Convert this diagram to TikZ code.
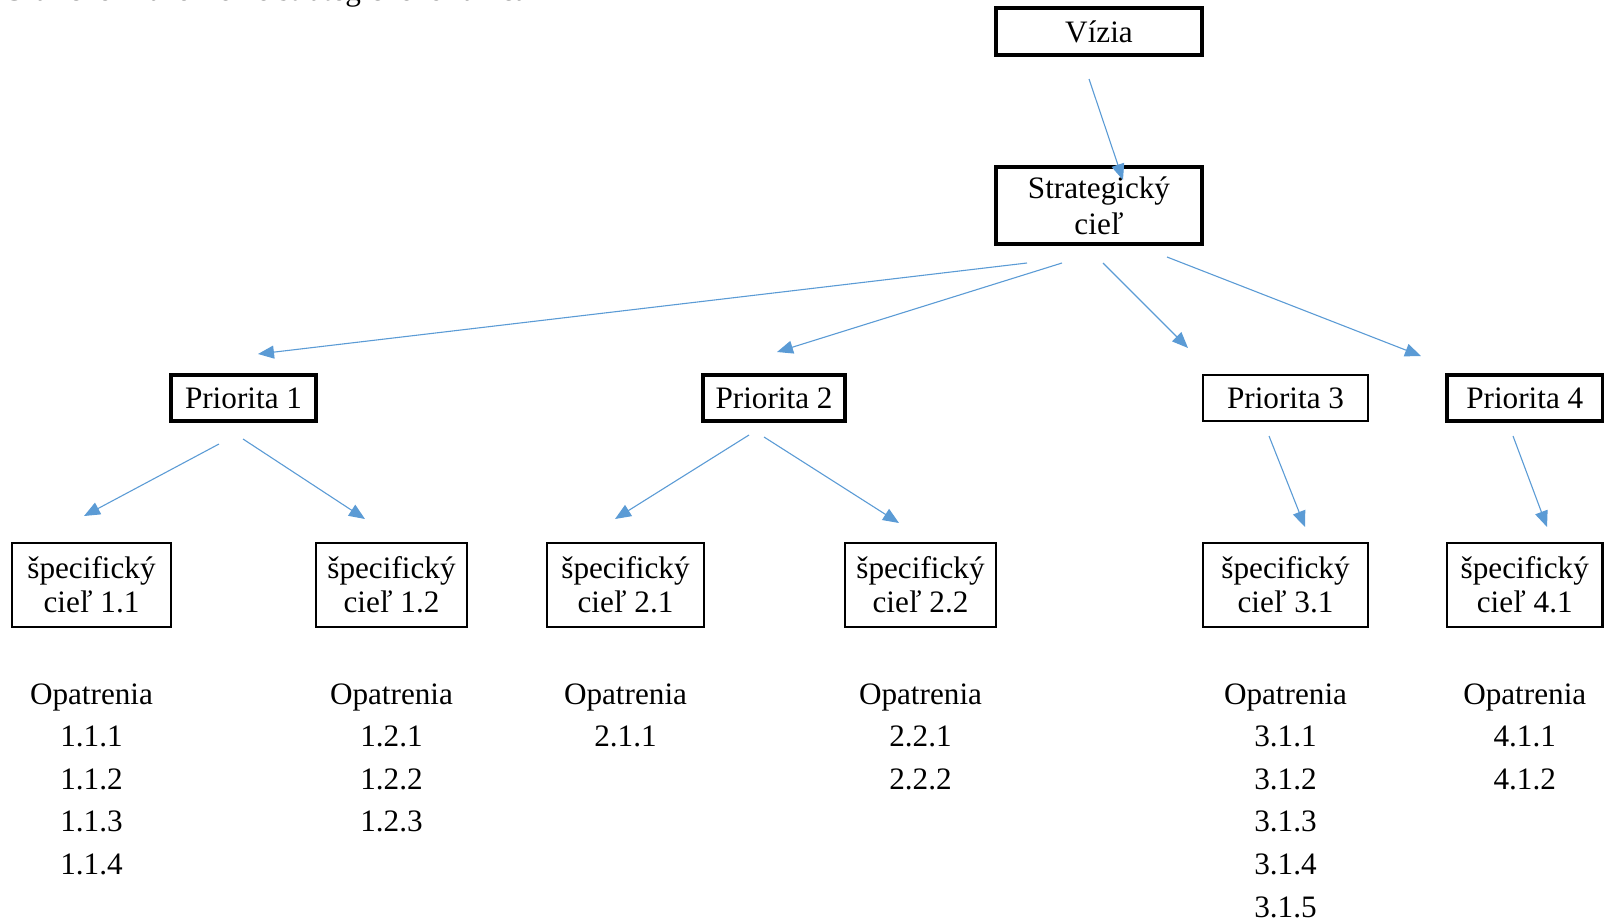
\documentclass[tikz,border=0pt]{standalone}
\usepackage{fontspec}
\setmainfont{Liberation Serif}
\usetikzlibrary{arrows.meta}
\definecolor{arrowblue}{HTML}{5B9BD5}
\tikzset{
  boxbase/.style={draw=black, rectangle, inner sep=0pt, align=center,
    font=\fontsize{15.6pt}{18pt}\selectfont},
  bigbox/.style={boxbase, line width=1.55pt},
  thinbox/.style={boxbase, line width=1pt},
  specbox/.style={boxbase, line width=1.1pt, minimum height=42pt},
  conn/.style={draw=arrowblue, line width=0.55pt, -{Triangle[length=8pt,width=6.5pt]}},
  listtext/.style={inner sep=0pt, anchor=base, font=\fontsize{15.6pt}{18pt}\selectfont}
}
\begin{document}
\begin{tikzpicture}[x=0.5pt,y=-0.5pt]
\useasboundingbox (0,0) rectangle (1605,921);
% cut-off caption at the very top
\node[listtext, anchor=base west] (caption) at (2,1) {Grafické znázornenie strategického rámca};
% boxes
\node[bigbox, minimum width=103pt, minimum height=23.5pt] (viz) at (1099,31.5) {Vízia};
\node[bigbox, minimum width=103pt, minimum height=38.5pt] (sc) at (1099,205.5) {Strategický\\cieľ};
\node[bigbox, minimum width=72.5pt, minimum height=23pt] (p1) at (243.5,398) {Priorita 1};
\node[bigbox, minimum width=71pt, minimum height=23pt] (p2) at (774,398) {Priorita 2};
\node[thinbox, minimum width=82.5pt, minimum height=23pt] (p3) at (1285.5,398) {Priorita 3};
\node[bigbox, minimum width=77.75pt, minimum height=23pt] (p4) at (1524.75,398) {Priorita 4};
\node[specbox, minimum width=79.5pt] (s11) at (91.5,585) {\raisebox{-1pt}{špecifický}\\cieľ 1.1};
\node[specbox, minimum width=75.5pt] (s12) at (391.5,585) {\raisebox{-1pt}{špecifický}\\cieľ 1.2};
\node[specbox, minimum width=78.5pt] (s21) at (625.5,585) {\raisebox{-1pt}{špecifický}\\cieľ 2.1};
\node[specbox, minimum width=75.5pt] (s22) at (920.5,585) {\raisebox{-1pt}{špecifický}\\cieľ 2.2};
\node[specbox, minimum width=82.5pt] (s31) at (1285.5,585) {\raisebox{-1pt}{špecifický}\\cieľ 3.1};
\node[specbox, minimum width=77.75pt] (s41) at (1524.75,585) {\raisebox{-1pt}{špecifický}\\cieľ 4.1};
% measures
\foreach \nm/\cx/\items in {o11/91.5/{1.1.1,1.1.2,1.1.3,1.1.4},
                            o12/391.5/{1.2.1,1.2.2,1.2.3},
                            o21/625.5/{2.1.1},
                            o22/920.5/{2.2.1,2.2.2},
                            o31/1285.5/{3.1.1,3.1.2,3.1.3,3.1.4,3.1.5},
                            o41/1524.75/{4.1.1,4.1.2}}{
  \node[listtext] (\nm-0) at (\cx,704) {Opatrenia};
  \foreach \it [count=\k] in \items {
    \node[listtext] (\nm-\k) at (\cx,704+42.6*\k) {\it};
  }
}
% connector end points
\coordinate (a0s) at (1089,79);   \coordinate (a0e) at (1123,180);
\coordinate (a1s) at (1027,263);  \coordinate (a1e) at (258,354);
\coordinate (a2s) at (1062,263);  \coordinate (a2e) at (777,352);
\coordinate (a3s) at (1103,263);  \coordinate (a3e) at (1188,348);
\coordinate (a4s) at (1167,257);  \coordinate (a4e) at (1421,356);
\coordinate (b1s) at (219,444);   \coordinate (b1e) at (84,516);
\coordinate (b2s) at (243,439);   \coordinate (b2e) at (365,519);
\coordinate (b3s) at (749,435);   \coordinate (b3e) at (615,519);
\coordinate (b4s) at (764,437);   \coordinate (b4e) at (899,523);
\coordinate (b5s) at (1269,436);  \coordinate (b5e) at (1305,527);
\coordinate (b6s) at (1513,436);  \coordinate (b6e) at (1547,527);
\foreach \a in {a0,a1,a2,a3,a4,b1,b2,b3,b4,b5,b6}{
  \draw[conn] (\a s) -- (\a e);
}
\end{tikzpicture}
\end{document}
